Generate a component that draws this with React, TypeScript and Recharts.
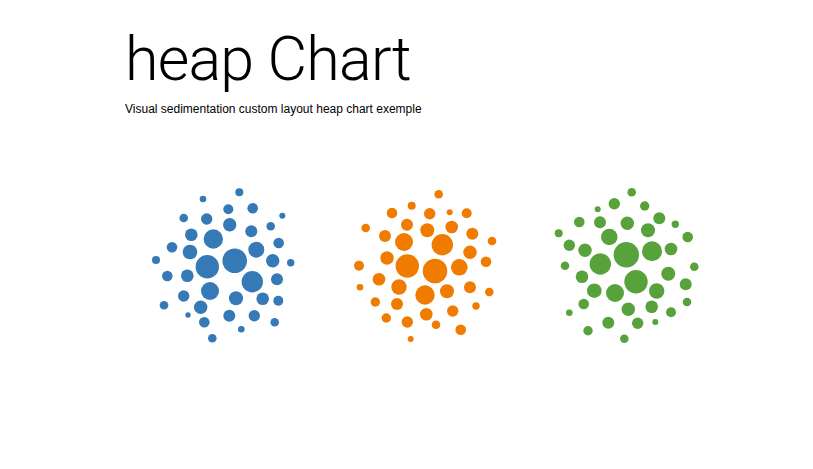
import React from "react";
import { ScatterChart, Scatter, XAxis, YAxis, ZAxis } from "recharts";

const categories = ["blue", "orange", "green"];

// [x, y, radius] in chart units
const blueValues: number[][] = [
  [239.3, 192.3, 4], [203, 199, 3.3], [228.3, 209.3, 5], [252.7, 208.3, 5.3], [282.3, 215.7, 3],
  [183.7, 218, 4.3], [206.7, 219, 5.7], [229.7, 224.7, 6.7], [270.7, 226.3, 4.3], [191.3, 234.7, 6.3],
  [213.3, 239, 9.7], [251.3, 231.3, 6], [278.7, 243, 5.3], [172, 247.3, 5.3], [190, 252, 7.3],
  [256.3, 249.7, 8], [234.7, 260.7, 12.3], [156, 260, 4], [290.7, 262.7, 3.7], [272.7, 260.7, 6.7],
  [207.3, 266.7, 11.7], [167.3, 276, 5.3], [187.3, 275.7, 6.3], [252.3, 281.7, 10.7], [277, 279.3, 6],
  [210, 291, 9], [183.7, 296, 5.7], [236, 298.3, 7], [262.7, 298.7, 6.3], [278.3, 300.7, 5],
  [164, 305.3, 4.3], [200.7, 307.3, 6.7], [188, 315, 2.7], [229.3, 315.7, 6], [254.3, 315.7, 5.7],
  [204.3, 322.3, 5.3], [274.7, 322.3, 4.3], [241.3, 329.3, 3.3], [212.3, 338.3, 4.3],
];

const orangeValues: number[][] = [
  [438.7, 194.3, 4.3], [411.7, 205.7, 4], [392, 213, 5.3], [429.7, 213.7, 5.7], [449.7, 212.3, 3],
  [466.7, 213.3, 5], [407, 224.7, 6], [365.7, 228, 4.3], [427.3, 230.3, 7], [451.7, 227, 6.3],
  [385, 236, 6], [404, 242, 9], [442.3, 244.7, 10.7], [472.3, 233.7, 6], [492, 241, 4.3],
  [470, 252.3, 6.7], [387, 258, 6.7], [407.3, 266, 11.7], [435, 271, 12.3], [459.3, 267.3, 8.3],
  [486, 261.7, 5.3], [359, 265.7, 5], [379, 279.3, 6.3], [399, 287, 7.7], [425, 295, 9.7],
  [447, 291.3, 7], [470, 287.3, 6], [489.3, 292, 4.3], [360, 287.3, 3.3], [375.3, 302, 4.7],
  [397, 304, 6], [452.7, 311, 5.7], [476, 306, 3.7], [426.3, 314.3, 6.3], [386.3, 318, 4.7],
  [407.3, 322, 5.7], [436, 324.7, 4.3], [460.7, 329.7, 5.3], [410.7, 339, 3],
];

const greenValues: number[][] = [
  [631.7, 192.3, 4.3], [614.3, 203.7, 5.7], [644.7, 206, 4.7], [597.7, 209.3, 3], [579.3, 222, 5.3],
  [600, 222.3, 6], [627.3, 223.3, 6.7], [659.3, 218.3, 6], [675.3, 224.3, 3.7], [648, 230.3, 7],
  [558.7, 233.3, 4], [609.3, 237, 8.3], [687.7, 237, 5.3], [569.3, 245.3, 5.7], [585, 250.3, 6.7],
  [626.3, 254.7, 12.7], [652, 251.3, 10], [671, 249, 6.3], [600.3, 264, 10.7], [565, 265.7, 4.3],
  [694.3, 266.7, 4.3], [668.3, 273.7, 7], [582, 276.7, 6.3], [636, 281.7, 11.7], [685.7, 284.3, 6],
  [594.3, 290.7, 7.3], [615, 293, 9], [656.7, 291, 7.7], [583.7, 304, 5.3], [628.3, 309.3, 6.7],
  [651.7, 306.7, 6.3], [687, 302, 4.3], [569.3, 312.7, 3.3], [671, 312.3, 5], [608.3, 322.7, 6],
  [637.7, 323.3, 5.7], [655.3, 322, 3], [588, 330.7, 4.7], [624.3, 338.7, 4.3],
];

const titleText = "heap Chart";
const subtitleText = "Visual sedimentation custom layout heap chart exemple";

const colors: Record<string, string> = {
  blue: "#3579b7",
  orange: "#ef7c00",
  green: "#58a23b",
};

const seriesValues: Record<string, number[][]> = {
  blue: blueValues,
  orange: orangeValues,
  green: greenValues,
};

const toPoints = (vals: number[][]) =>
  vals.map(([x, y, r]) => ({ x, y, z: Math.PI * r * r }));

const W = 813;
const H = 469;

export default function App() {
  return (
    <div style={{ position: "absolute", left: 0, top: 0, width: W, height: H, background: "#fff" }}>
      <div
        style={{
          position: "absolute",
          left: 125,
          top: 18.5,
          fontFamily: "Roboto, 'Liberation Sans', Arial, sans-serif",
          fontSize: 61,
          fontWeight: 300,
          letterSpacing: -0.8,
          color: "#000",
          whiteSpace: "nowrap",
          lineHeight: "80px",
        }}
      >
        {titleText}
      </div>
      <div
        style={{
          position: "absolute",
          left: 125,
          top: 101,
          fontFamily: "'Liberation Sans', Arial, sans-serif",
          fontSize: 12,
          color: "#000",
          whiteSpace: "nowrap",
          lineHeight: "16px",
        }}
      >
        {subtitleText}
      </div>
      <div style={{ position: "absolute", left: 0, top: 0 }}>
        <ScatterChart width={W} height={H} margin={{ top: 0, right: 0, bottom: 0, left: 0 }}>
          <XAxis type="number" dataKey="x" domain={[0, W]} hide />
          <YAxis type="number" dataKey="y" domain={[0, H]} reversed hide />
          <ZAxis type="number" dataKey="z" domain={[0, 1000]} range={[0, 1000]} />
          {categories.map((c) => (
            <Scatter
              key={c}
              name={c}
              data={toPoints(seriesValues[c])}
              fill={colors[c]}
              shape="circle"
              isAnimationActive={false}
            />
          ))}
        </ScatterChart>
      </div>
    </div>
  );
}
